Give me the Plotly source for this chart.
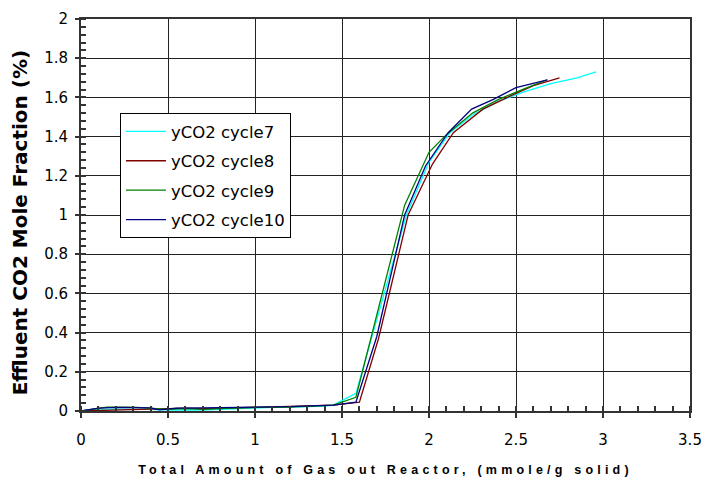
import plotly.graph_objects as go

# cycle 7 (cyan)
x7 = [0, 0.1, 0.2, 0.3, 0.4, 0.5, 0.6, 0.7, 0.8, 0.9, 1.0, 1.1, 1.2, 1.3, 1.4, 1.45, 1.58, 1.87, 2.0, 2.12, 2.25, 2.4, 2.55, 2.7, 2.85, 2.96]
y7 = [0, 0.01, 0.01, 0.01, 0.008, 0.005, 0.004, 0.005, 0.008, 0.012, 0.015, 0.018, 0.02, 0.022, 0.025, 0.03, 0.09, 1.0, 1.27, 1.42, 1.51, 1.58, 1.63, 1.67, 1.70, 1.73]
# cycle 8 (dark red)
x8 = [0, 0.1, 0.2, 0.3, 0.4, 0.5, 0.6, 0.7, 0.8, 0.9, 1.0, 1.1, 1.2, 1.3, 1.4, 1.45, 1.60, 1.71, 1.88, 2.02, 2.14, 2.31, 2.45, 2.6, 2.75]
y8 = [0, 0.002, 0.003, 0.006, 0.008, 0.012, 0.015, 0.012, 0.014, 0.016, 0.018, 0.02, 0.022, 0.026, 0.028, 0.03, 0.045, 0.37, 1.0, 1.26, 1.42, 1.54, 1.6, 1.66, 1.70]
# cycle 9 (green)
x9 = [0, 0.1, 0.15, 0.3, 0.4, 0.5, 0.6, 0.7, 0.8, 0.9, 1.0, 1.2, 1.4, 1.45, 1.58, 1.86, 2.0, 2.10, 2.25, 2.4, 2.55, 2.68]
y9 = [0, 0.015, 0.02, 0.02, 0.015, 0.008, 0.012, 0.008, 0.012, 0.016, 0.018, 0.02, 0.025, 0.03, 0.07, 1.05, 1.32, 1.41, 1.52, 1.59, 1.645, 1.69]
# cycle 10 (navy)
x10 = [0, 0.1, 0.2, 0.3, 0.4, 0.45, 0.55, 0.7, 0.9, 1.0, 1.2, 1.45, 1.58, 1.70, 1.86, 1.98, 2.11, 2.245, 2.37, 2.5, 2.68]
y10 = [0, 0.015, 0.018, 0.018, 0.016, 0.006, 0.015, 0.016, 0.017, 0.02, 0.022, 0.03, 0.045, 0.38, 1.0, 1.25, 1.42, 1.54, 1.59, 1.65, 1.69]

names = ["yCO2 cycle7", "yCO2 cycle8", "yCO2 cycle9", "yCO2 cycle10"]
colors = ["#00FFFF", "#800000", "#008000", "#000080"]

xticks = [0, 0.5, 1, 1.5, 2, 2.5, 3, 3.5]
yticks = [0, 0.2, 0.4, 0.6, 0.8, 1, 1.2, 1.4, 1.6, 1.8, 2]

y_title = "Effluent CO2 Mole Fraction (%)"
x_title = "Total Amount of Gas out Reactor, (mmole/g solid)"

fig = go.Figure()
for xs, ys, n, c in zip([x7, x8, x9, x10], [y7, y8, y9, y10], names, colors):
    fig.add_trace(go.Scatter(x=xs, y=ys, mode="lines", name=n, legendgroup=n,
                             line=dict(color=c, width=1.3)))

axfont = dict(family="DejaVu Sans", size=15, color="black")
fig.update_layout(
    width=706, height=477,
    margin=dict(l=81, r=16, t=19, b=66, autoexpand=False),
    paper_bgcolor="white", plot_bgcolor="white",
    showlegend=True,
    legend=dict(x=0.064, y=0.76, xanchor="left", yanchor="top",
                bgcolor="white", bordercolor="black", borderwidth=1,
                font=dict(family="DejaVu Sans", size=16.5, color="black"),
                tracegroupgap=5, itemwidth=40),
    xaxis=dict(range=[0, 3.5], tickvals=xticks, ticktext=[str(v) for v in xticks],
               showgrid=True, gridcolor="#222", gridwidth=1,
               showline=True, linecolor="#333", linewidth=2, mirror=True,
               ticks="outside", ticklen=5, tickcolor="#333", tickwidth=1.5,
               minor=dict(dtick=0.1, ticks="inside", ticklen=5, tickcolor="#333", showgrid=False),
               tickfont=axfont, ticklabelstandoff=9, ticklabeloverflow="allow",
               zeroline=False, automargin=False,
               title=dict(text='<span style="letter-spacing:4.2px">' + x_title + '</span>',
                          font=dict(family="Liberation Sans", size=12.5, color="black", weight="bold"),
                          standoff=18)),
    yaxis=dict(range=[0, 2], tickvals=yticks, ticktext=[("%g" % v) for v in yticks],
               showgrid=True, gridcolor="#222", gridwidth=1,
               showline=True, linecolor="#333", linewidth=2, mirror=True,
               ticks="outside", ticklen=4, tickcolor="#333", tickwidth=1.5,
               minor=dict(dtick=0.04, ticks="inside", ticklen=5, tickcolor="#333", showgrid=False),
               tickfont=axfont, ticklabelstandoff=4, ticklabeloverflow="allow",
               zeroline=False, automargin=False),
)
fig.add_annotation(text=y_title, textangle=-90, xref="paper", yref="paper",
                   x=-0.1, y=0.479, xanchor="center", yanchor="middle", showarrow=False,
                   font=dict(family="DejaVu Sans", size=20, color="black", weight="bold"))

fig.write_html("out.html", config={"displayModeBar": False},
               post_script="document.body.style.margin='0';document.body.style.overflow='hidden';")
